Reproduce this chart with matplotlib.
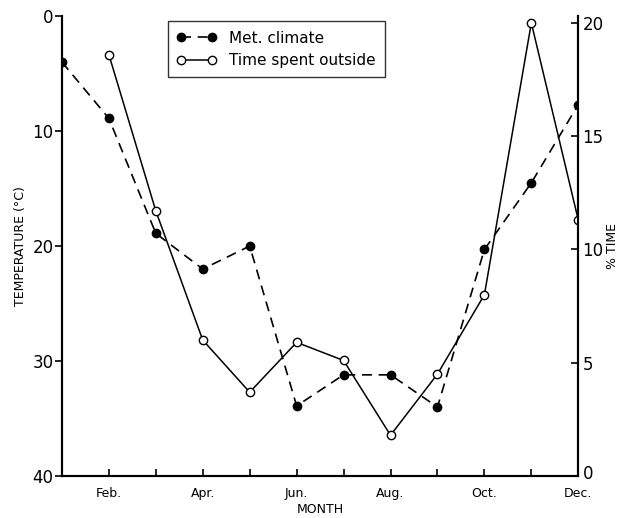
import numpy as np
import matplotlib
matplotlib.use("Agg")
import matplotlib.pyplot as plt
from matplotlib.transforms import ScaledTranslation

# data
months = np.arange(1, 13)
month_labels = ["", "Feb.", "", "Apr.", "", "Jun.", "", "Aug.", "", "Oct.", "", "Dec."]
temp = [4.0, 8.9, 18.9, 22.0, 20.0, 33.9, 31.2, 31.2, 34.0, 20.3, 14.5, 7.7]
time_months = np.arange(2, 13)
time_out = [18.6, 11.7, 6.0, 3.7, 5.9, 5.1, 1.8, 4.5, 8.0, 20.0, 11.3]

fig = plt.figure(figsize=(6.32, 5.18), dpi=100)
ax = fig.add_axes([0.098, 0.081, 0.817, 0.888])
ax2 = ax.twinx()

l1, = ax.plot(months, temp, 'k--', lw=1.2, dashes=(6, 4), marker='o',
              ms=6, mfc='k', mec='k')
l2, = ax2.plot(time_months, time_out, 'k-', lw=1.1, marker='o',
               ms=6, mfc='white', mec='k', mew=1.0)

ax.set_xlim(1, 12)
ax.set_ylim(40, 0)
ax2.set_ylim(0, 20.3)

ax.set_xticks(months)
ax.set_xticklabels(month_labels, fontsize=9)
ax.set_yticks([0, 10, 20, 30, 40])
ax.set_yticklabels(["0", "10", "20", "30", "40"], fontsize=12)
ax2.set_yticks([0, 5, 10, 15, 20])
ax2.set_yticklabels(["0", "5", "10", "15", "20"], fontsize=12)

ax.tick_params(axis='x', direction='in', length=5, width=1.2, pad=8)
ax.tick_params(axis='y', direction='out', length=5, width=1.2, pad=1)
ax2.tick_params(axis='y', direction='in', length=5, width=1.2, pad=3)

# nudge the right-hand "0" up a little so it clears "Dec."
lab0 = ax2.get_yticklabels()[0]
lab0.set_transform(lab0.get_transform() +
                   ScaledTranslation(0, 3 / 72, fig.dpi_scale_trans))

for a in (ax, ax2):
    a.spines['top'].set_visible(False)
    for s in ('left', 'right', 'bottom'):
        a.spines[s].set_linewidth(1.5)

ax.set_xlabel("MONTH", fontsize=9, labelpad=2)
ax.set_ylabel("TEMPERATURE (°C)", fontsize=9, labelpad=4)
ax2.set_ylabel("% TIME", fontsize=9, labelpad=2)

leg = ax.legend([l1, l2], ["Met. climate", "Time spent outside"],
                loc='upper left', bbox_to_anchor=(0.19, 1.005), fontsize=11,
                numpoints=2, handlelength=2.6, frameon=True, fancybox=False,
                borderpad=0.6, labelspacing=0.5)
leg.get_frame().set_edgecolor('k')
leg.get_frame().set_linewidth(1.0)
leg.set_zorder(5)

plt.savefig("out.png", dpi=100)
